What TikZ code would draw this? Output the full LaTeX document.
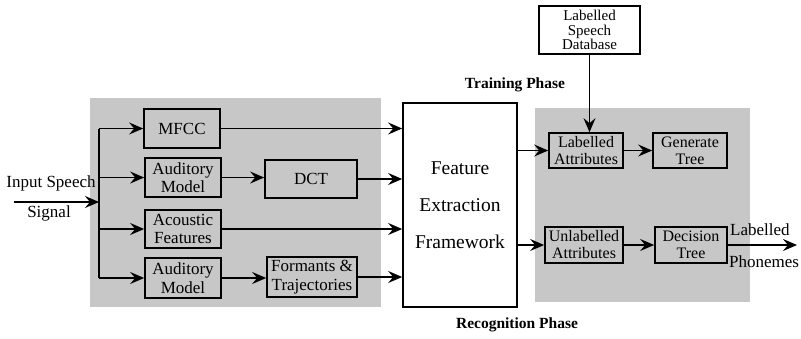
\documentclass[tikz,border=0pt]{standalone}
\usepackage{fontspec}
\setmainfont{Liberation Serif}
\usetikzlibrary{arrows.meta}
\begin{document}
\begin{tikzpicture}[x=1pt,y=-1pt,
  box/.style={draw, line width=1.7pt, align=center, inner sep=0pt,
    font=\rmfamily\fontsize{17}{18.5}\selectfont},
  small/.style={font=\rmfamily\fontsize{16}{17}\selectfont},
  flow/.style={line width=1.4pt, -{Stealth[length=14pt,width=12pt,inset=5pt]}},
  wire/.style={line width=1.4pt},
  phase/.style={font=\rmfamily\fontsize{15.5}{17}\selectfont\bfseries},
  plain/.style={font=\rmfamily\fontsize{17}{18}\selectfont, inner sep=0pt},
  region/.style={fill=black!22, draw=none}]
\useasboundingbox (0,0) rectangle (801,338);

% shaded stages
\fill[region] (90,98) rectangle (381,307);
\fill[region] (535,108) rectangle (750,302);

% front-end boxes
\node[box, minimum width=76pt, minimum height=39pt] (mfcc) at (182,128.5) {MFCC};
\node[box, minimum width=76pt, minimum height=39pt] (am1) at (183,177.5) {Auditory\\Model};
\node[box, minimum width=76pt, minimum height=38pt] (af) at (183,229) {Acoustic\\Features};
\node[box, minimum width=76pt, minimum height=40pt] (am2) at (183,278) {Auditory\\Model};
\node[box, minimum width=92pt, minimum height=38pt] (dct) at (311,179) {DCT};
\node[box, minimum width=90pt, minimum height=40pt] (ft) at (312,277) {Formants \&\\Trajectories};

% central framework
\node[box, minimum width=114pt, minimum height=204pt,
  font=\rmfamily\fontsize{19.5}{37}\selectfont] (fef) at (460,205) {Feature\\Extraction\\Framework};

% classifier side
\node[box, minimum width=101pt, minimum height=48pt,
  font=\rmfamily\fontsize{15}{14.5}\selectfont] (lsd) at (589.5,30) {Labelled\\Speech\\Database};
\node[box, small, minimum width=74pt, minimum height=35pt] (la) at (586,150.5) {Labelled\\Attributes};
\node[box, small, minimum width=74pt, minimum height=35pt] (gt) at (690,150.5) {Generate\\Tree};
\node[box, small, minimum width=78pt, minimum height=36pt] (ua) at (584,245) {Unlabelled\\Attributes};
\node[box, small, minimum width=72pt, minimum height=36pt] (dt) at (691,245) {Decision\\Tree};

% labels
\node[plain] (inlab) at (51,183) {Input Speech};
\node[plain] (siglab) at (49,213) {Signal};
\node[phase] (train) at (515,85) {Training Phase};
\node[phase] (recog) at (517,325) {Recognition Phase};
\node[plain, anchor=west] (outlab) at (730,230) {Labelled};
\node[plain, anchor=west] (phon) at (729,262) {Phonemes};

% input and distribution bus
\coordinate (in) at (14,202);
\coordinate (bus) at (99,202);
\draw[flow] (in) -- (bus);
\draw[wire] (bus |- mfcc.west) -- (bus |- am2.west);
\draw[flow] (bus |- mfcc.west) -- (mfcc.west);
\draw[flow] (bus |- am1.west) -- (am1.west);
\draw[flow] (bus |- af.west) -- (af.west);
\draw[flow] (bus |- am2.west) -- (am2.west);

% features into the framework
\draw[flow] (mfcc.east) -- (mfcc.east -| fef.west);
\draw[flow] (am1.east) -- (am1.east -| dct.west);
\draw[flow] (dct.east) -- (dct.east -| fef.west);
\draw[flow] (af.east) -- (af.east -| fef.west);
\draw[flow] (am2.east) -- (am2.east -| ft.west);
\draw[flow] (ft.east) -- (ft.east -| fef.west);

% training and recognition paths
\draw[flow] (fef.east |- la.west) -- (la.west);
\draw[flow] (fef.east |- ua.west) -- (ua.west);
\draw[flow] (lsd.south) -- (lsd.south |- la.north);
\draw[flow] (la.east) -- (gt.west);
\draw[flow] (ua.east) -- (dt.west);
\coordinate (out) at (797,245);
\draw[flow] (dt.east) -- (out);
\end{tikzpicture}
\end{document}
